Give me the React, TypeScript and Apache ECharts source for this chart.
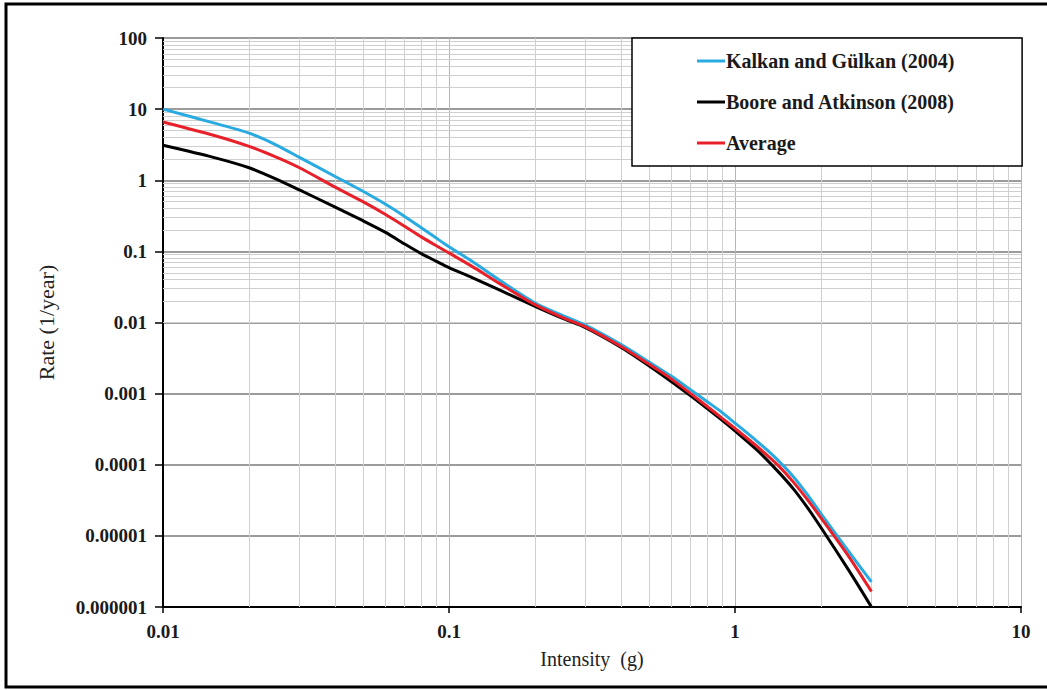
import React, { useEffect, useRef } from "react";
import * as echarts from "echarts";

const intensity = [0.01, 0.015, 0.02, 0.025, 0.03, 0.04, 0.05, 0.06, 0.07, 0.08, 0.09, 0.1, 0.12, 0.15, 0.2, 0.25, 0.3, 0.4, 0.5, 0.6, 0.7, 0.8, 0.9, 1, 1.2, 1.4, 1.6, 1.8, 2, 2.5, 3];
const kalkan = [10, 6.4, 4.6, 3.1, 2.1, 1.13, 0.7, 0.46, 0.31, 0.215, 0.155, 0.116, 0.073, 0.0395, 0.0188, 0.0125, 0.0092, 0.0049, 0.0028, 0.00175, 0.00113, 0.00077, 0.000545, 0.000385, 0.00021, 0.00012, 0.000068, 0.000037, 0.0000204, 0.000006, 0.00000225];
const boore = [3.1, 2.1, 1.5, 1.03, 0.73, 0.42, 0.27, 0.185, 0.127, 0.093, 0.073, 0.059, 0.043, 0.0287, 0.0169, 0.0114, 0.00846, 0.00446, 0.00247, 0.00147, 0.00093, 0.000615, 0.000425, 0.000299, 0.000158, 0.000084, 0.0000458, 0.0000243, 0.000013, 0.00000327, 0.000001];
const average = [6.6, 4.3, 3.0, 2.1, 1.5, 0.8, 0.5, 0.33, 0.225, 0.16, 0.121, 0.095, 0.062, 0.0355, 0.0178, 0.0117, 0.0087, 0.0046, 0.0026, 0.0016, 0.001, 0.00066, 0.000453, 0.000324, 0.000178, 0.000102, 0.000057, 0.0000315, 0.0000178, 0.0000051, 0.00000165];
const seriesNames = ["Kalkan and Gülkan (2004)", "Boore and Atkinson (2008)", "Average"];
const seriesColors = ["#29abe2", "#000000", "#e8202a"];

function minorValues(minExp: number, maxExp: number) {
  const out: number[] = [];
  for (let e = minExp; e < maxExp; e++) {
    for (let m = 2; m <= 9; m++) out.push(m * Math.pow(10, e));
  }
  return out;
}

function fmt(v: number) {
  const e = Math.round(Math.log10(v));
  if (e >= 0) return String(Math.round(Math.pow(10, e)));
  return Math.pow(10, e).toFixed(-e);
}

export default function App() {
  const ref = useRef<HTMLDivElement>(null);
  useEffect(() => {
    if (!ref.current) return;
    const chart = echarts.init(ref.current, null, { renderer: "svg" });
    const labelFont = { fontFamily: "Liberation Serif", fontWeight: "bold" as const, fontSize: 19, color: "#1a1a1a" };
    const mk = (d: number[]) => intensity.map((x, i) => [x, d[i]]);
    chart.setOption({
      animation: false,
      backgroundColor: "#ffffff",
      grid: { left: 163, right: 26, top: 38, bottom: 83, containLabel: false },
      legend: {
        orient: "vertical",
        left: 632,
        top: 38,
        z: 20,
        padding: [13, 67, 13, 65],
        backgroundColor: "#ffffff",
        borderColor: "#000000",
        borderWidth: 1.5,
        itemWidth: 28,
        itemHeight: 3,
        itemGap: 21,
        icon: "rect",
        textStyle: { ...labelFont, fontSize: 20, lineHeight: 20, padding: [0, 0, 0, -4] },
        data: seriesNames,
      },
      xAxis: {
        type: "log",
        logBase: 10,
        min: 0.01,
        max: 10,
        splitNumber: 3,
        name: "Intensity  (g)",
        nameLocation: "middle",
        nameGap: 42,
        nameTextStyle: { fontFamily: "Liberation Serif", fontSize: 20, color: "#222" },
        axisLine: { show: true, lineStyle: { color: "#000", width: 2 } },
        axisTick: { show: true, length: 6, lineStyle: { color: "#000", width: 1.5 } },
        axisLabel: { ...labelFont, margin: 15, formatter: fmt },
        splitLine: { show: true, lineStyle: { color: "#b5b5b5", width: 1 } },
        minorTick: { show: false },
        minorSplitLine: { show: false },
      },
      yAxis: {
        type: "log",
        logBase: 10,
        min: 0.000001,
        max: 100,
        splitNumber: 8,
        name: "Rate (1/year)",
        nameLocation: "middle",
        nameGap: 106,
        nameTextStyle: { fontFamily: "Liberation Serif", fontSize: 22, color: "#222" },
        axisLine: { show: true, lineStyle: { color: "#000", width: 2 } },
        axisTick: { show: true, length: 8, lineStyle: { color: "#000", width: 1.5 } },
        axisLabel: { ...labelFont, margin: 16, formatter: fmt },
        splitLine: { show: true, lineStyle: { color: "#7a7a7a", width: 1.5 } },
        minorTick: { show: false },
        minorSplitLine: { show: false },
      },
      graphic: [
        {
          type: "polyline",
          silent: true,
          shape: { points: [[1047, 4], [6, 4], [6, 687], [1047, 687]] },
          style: { stroke: "#000", lineWidth: 3, fill: "none" },
        },
      ],
      series: [
        {
          type: "line",
          name: "_grid",
          data: [],
          silent: true,
          z: 1,
          markLine: {
            silent: true,
            symbol: "none",
            label: { show: false },
            animation: false,
            data: [
              ...minorValues(-2, 1).map((v) => ({ xAxis: v, lineStyle: { color: "#cfcfcf", width: 1, type: "solid" } })),
              ...minorValues(-6, 2).map((v) => ({ yAxis: v, lineStyle: { color: "#cfcfcf", width: 1, type: "solid" } })),
            ],
          },
        },
        ...seriesNames.map((n, i) => ({
          type: "line",
          name: n,
          data: mk([kalkan, boore, average][i]),
          showSymbol: false,
          symbol: "none",
          smooth: 0.25,
          z: 10,
          lineStyle: { color: seriesColors[i], width: 3 },
          itemStyle: { color: seriesColors[i] },
        })),
      ],
    });
    return () => chart.dispose();
  }, []);
  return <div ref={ref} style={{ position: "fixed", left: 0, top: 0, width: 1047, height: 690, background: "#fff" }} />;
}
